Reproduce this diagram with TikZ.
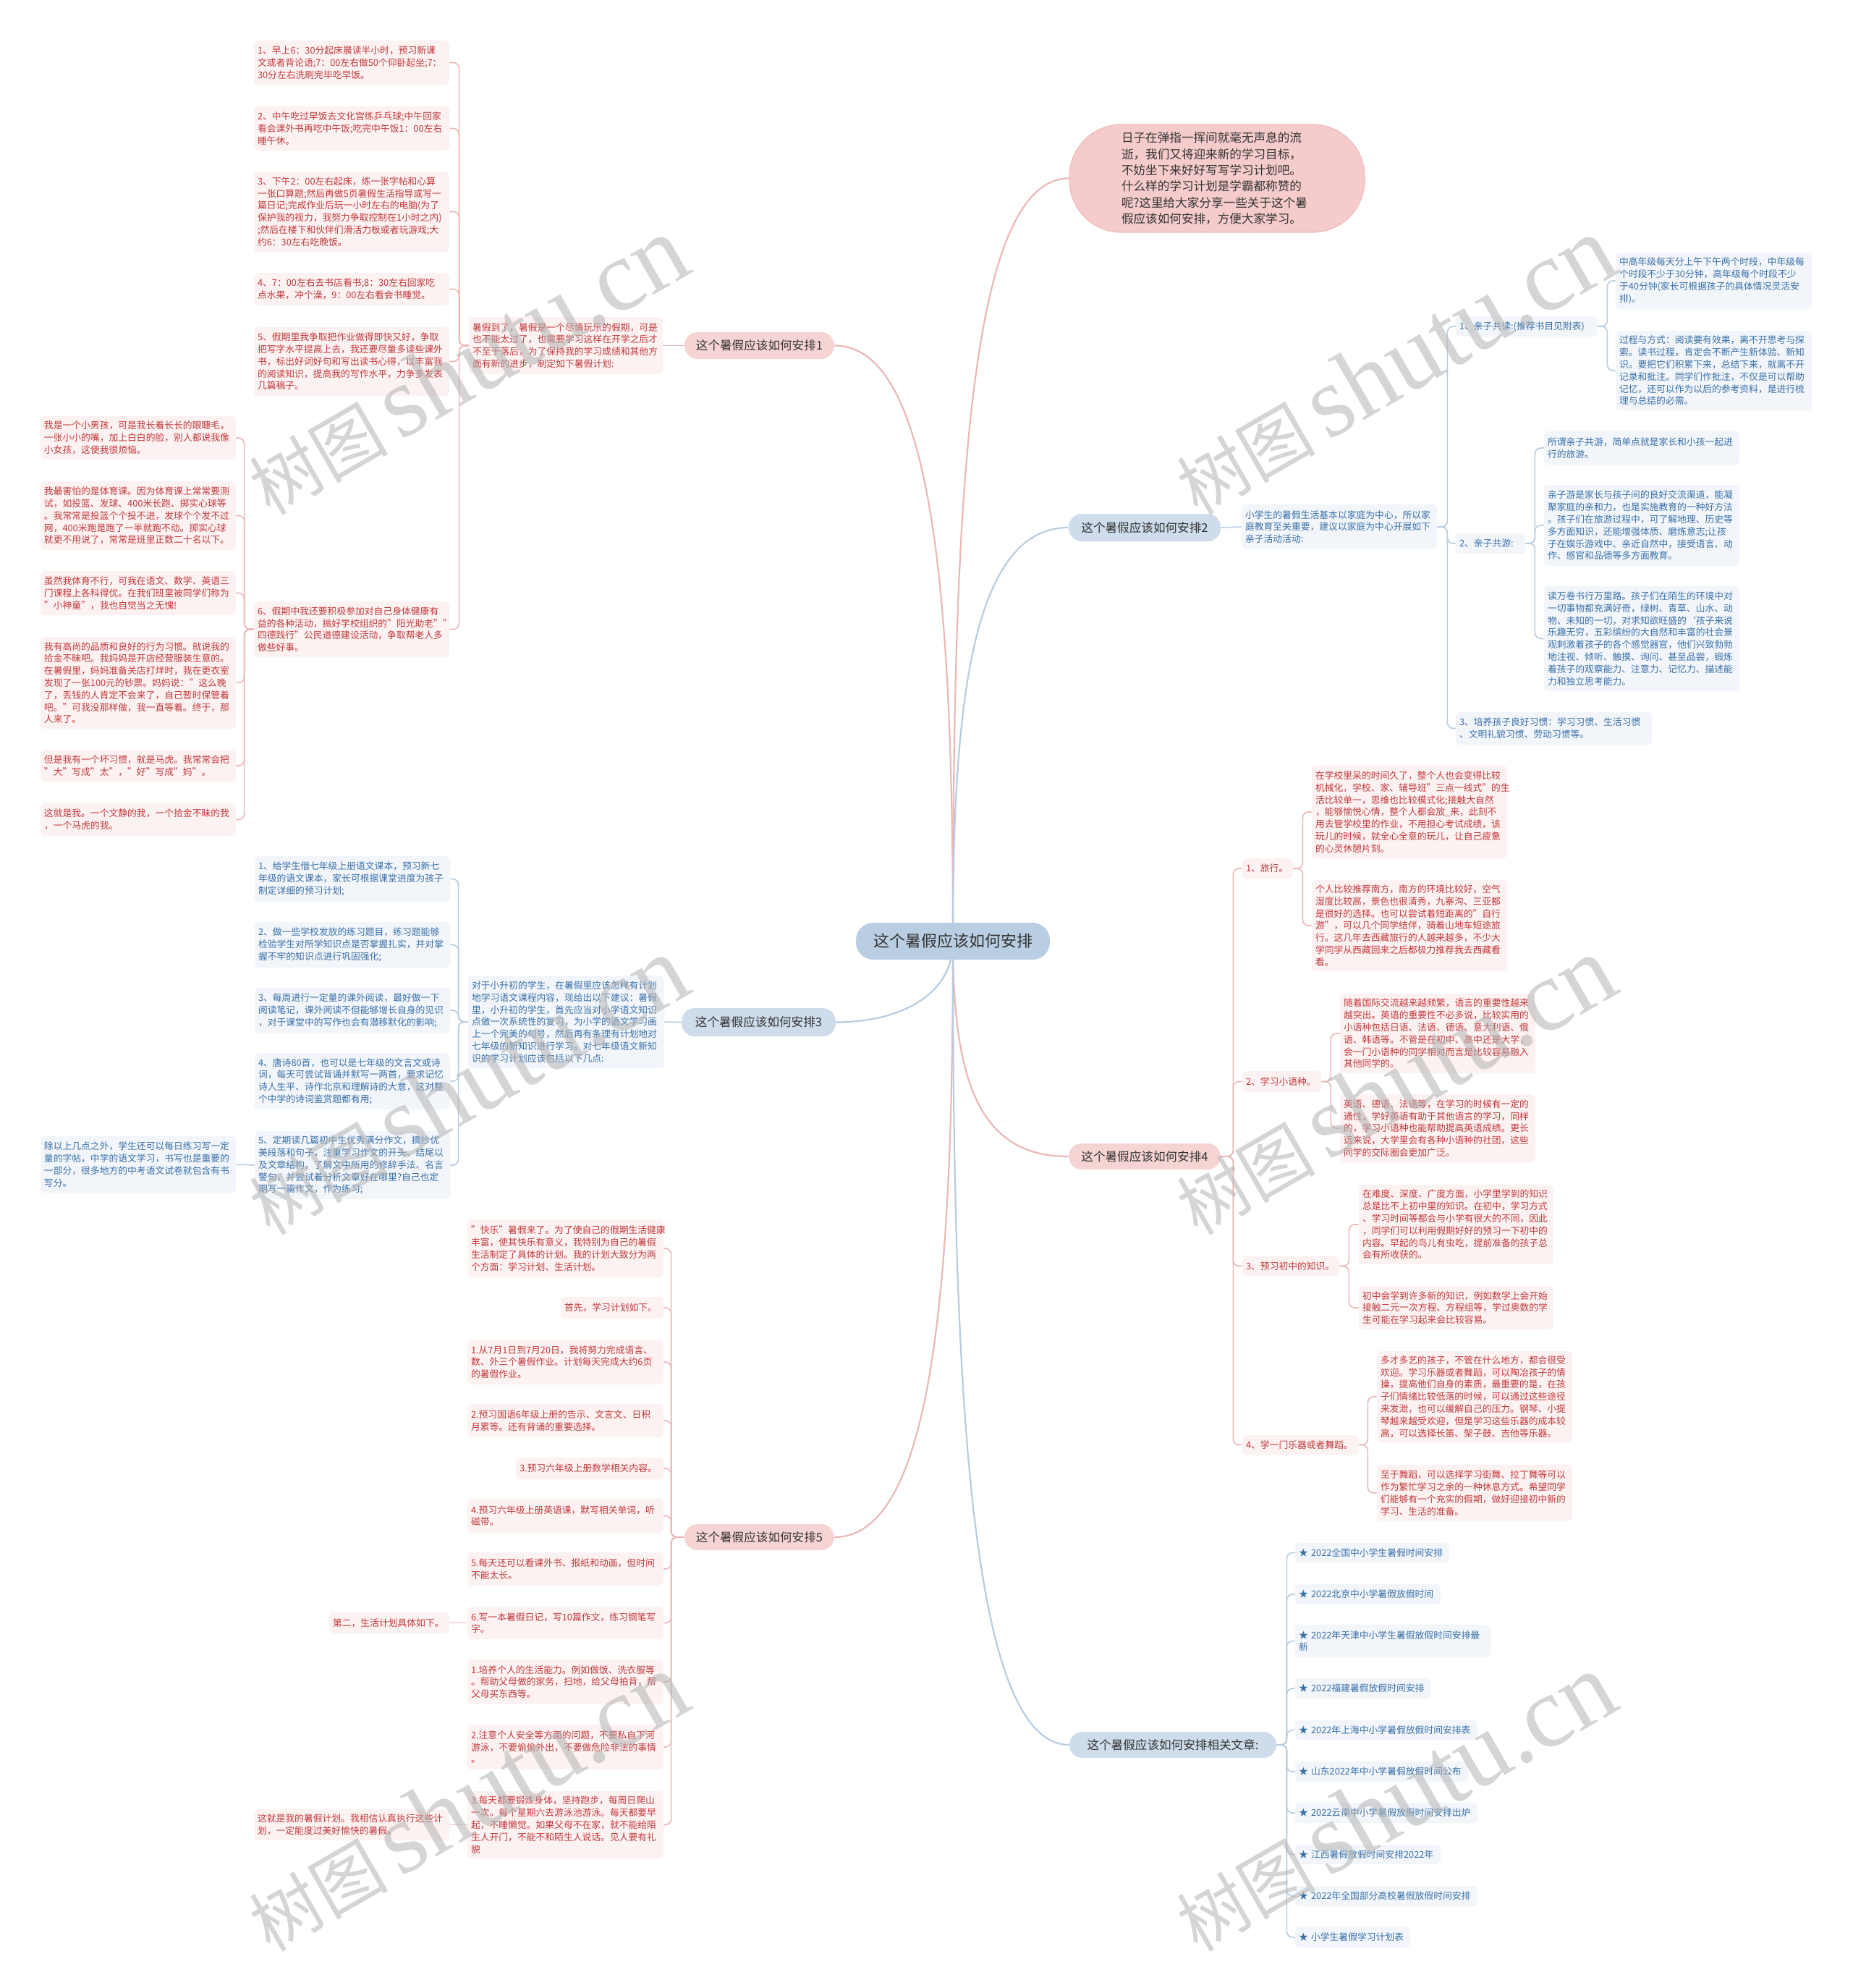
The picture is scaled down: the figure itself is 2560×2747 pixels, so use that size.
\documentclass[tikz,border=0pt]{standalone}
\usepackage{fontspec}
\setmainfont{Noto Sans CJK SC}
\newfontfamily\wmserif{Liberation Serif}
\definecolor{pinktext}{HTML}{C0393B}
\definecolor{pinkfill}{HTML}{FDF2F2}
\definecolor{pinkline}{HTML}{EBB8B8}
\definecolor{pinkbr}{HTML}{F7D4D4}
\definecolor{ovalfill}{HTML}{F5CBCB}
\definecolor{ovaldraw}{HTML}{F0BABA}
\definecolor{bluetext}{HTML}{3A6FA6}
\definecolor{bluefill}{HTML}{F2F6FB}
\definecolor{blueline}{HTML}{B9CCE0}
\definecolor{bluebr}{HTML}{CEDCEB}
\definecolor{centerfill}{HTML}{BACEE3}
\definecolor{darktext}{HTML}{333333}
\definecolor{wmgray}{HTML}{B4B4B4}
\pgfdeclarelayer{back}
\pgfdeclarelayer{bg}
\pgfdeclarelayer{wm}
\pgfsetlayers{back,bg,main,wm}
\newcommand\dq{\char"0022\relax}
\newcommand\mmbox[7]{%
  \pgfmathsetmacro\mmw{(#5-#3)*0.5}%
  \pgfmathsetmacro\mmh{(#6-#4)*0.5}%
  \pgfmathsetmacro\mmt{(#5-#3)*0.5-5}%
  \pgfmathsetmacro\mmx{(#3+#5)/2}%
  \pgfmathsetmacro\mmy{(#4+#6)/2}%
  \node[#2,minimum width=\mmw pt,minimum height=\mmh pt,text width=\mmt pt] (#1) at (\mmx,\mmy) {#7};%
}
\begin{document}
\begin{tikzpicture}[x=0.5pt,y=-0.5pt,
  lfP/.style={fill=pinkfill,text=pinktext,rounded corners=3pt,align=left,inner xsep=2.5pt,inner ysep=1.5pt,font=\fontsize{6.4}{8.4}\selectfont},
  lfB/.style={fill=bluefill,text=bluetext,rounded corners=3pt,align=left,inner xsep=2.5pt,inner ysep=1.5pt,font=\fontsize{6.4}{8.4}\selectfont},
  brP/.style={fill=pinkbr,text=darktext,rounded corners=9pt,align=center,inner xsep=2.5pt,inner ysep=1pt,font=\fontsize{8.3}{10}\selectfont},
  brB/.style={fill=bluebr,text=darktext,rounded corners=9pt,align=center,inner xsep=2.5pt,inner ysep=1pt,font=\fontsize{8.3}{10}\selectfont},
  lnP/.style={draw=pinkline,line width=0.8pt,rounded corners=4pt},
  lnB/.style={draw=blueline,line width=0.8pt,rounded corners=4pt},
  mnP/.style={draw=pinkline,line width=1.1pt},
  mnB/.style={draw=blueline,line width=1.1pt},
  wmk/.style={rotate=30,text=wmgray,text opacity=0.55,inner sep=0pt}
]
\useasboundingbox (0,0) rectangle (2560,2747);
\begin{pgfonlayer}{back}
\fill[white] (0,0) rectangle (2560,2747);
\end{pgfonlayer}

% ---------- center ----------
\node[fill=centerfill,text=darktext,rounded corners=12pt,minimum width=134pt,minimum height=25.5pt,inner sep=0pt,font=\fontsize{11}{13}\selectfont] (c) at (1317,1300.5) {这个暑假应该如何安排};

% ---------- intro oval ----------
\node[fill=ovalfill,draw=ovaldraw,line width=0.6pt,rounded corners=36pt,minimum width=204pt,minimum height=74.5pt,text width=132pt,align=left,text=darktext,font=\fontsize{8.3}{11.2}\selectfont,inner sep=0pt] (intro) at (1682,246.5) {日子在弹指一挥间就毫无声息的流\\逝，我们又将迎来新的学习目标，\\不妨坐下来好好写写学习计划吧。\\什么样的学习计划是学霸都称赞的\\呢?这里给大家分享一些关于这个暑\\假应该如何安排，方便大家学习。};

% ---------- branch 1 ----------
\mmbox{b1}{brP}{946}{459}{1153}{496}{这个暑假应该如何安排1}
\mmbox{p1i}{lfP}{648}{438}{916}{517}{暑假到了，暑假是一个尽情玩乐的假期，可是\\也不能太过了，也需要学习这样在开学之后才\\不至于落后，为了保持我的学习成绩和其他方\\面有新的进步，制定如下暑假计划:}
\mmbox{it1}{lfP}{351}{56}{621}{117}{1、早上6：30分起床晨读半小时，预习新课\\文或者背论语;7：00左右做50个仰卧起坐;7：\\30分左右洗刷完毕吃早饭。}
\mmbox{it2}{lfP}{351}{147}{621}{208}{2、中午吃过早饭去文化宫练乒乓球;中午回家\\看会课外书再吃中午饭;吃完中午饭1：00左右\\睡午休。}
\mmbox{it3}{lfP}{351}{237}{621}{348}{3、下午2：00左右起床，练一张字帖和心算\\一张口算题;然后再做5页暑假生活指导或写一\\篇日记;完成作业后玩一小时左右的电脑(为了\\保护我的视力，我努力争取控制在1小时之内)\\;然后在楼下和伙伴们滑活力板或者玩游戏;大\\约6：30左右吃晚饭。}
\mmbox{it4}{lfP}{351}{377}{621}{422}{4、7：00左右去书店看书;8：30左右回家吃\\点水果，冲个澡，9：00左右看会书睡觉。}
\mmbox{it5}{lfP}{351}{452}{621}{547}{5、假期里我争取把作业做得即快又好，争取\\把写字水平提高上去，我还要尽量多读些课外\\书，标出好词好句和写出读书心得，以丰富我\\的阅读知识，提高我的写作水平，力争多发表\\几篇稿子。}
\mmbox{it6}{lfP}{351}{831}{621}{908}{6、假期中我还要积极参加对自己身体健康有\\益的各种活动，搞好学校组织的\dq{}阳光助老\dq{}\dq{}\\四德践行\dq{}公民道德建设活动，争取帮老人多\\做些好事。}
\mmbox{k1}{lfP}{56}{575}{326}{635}{我是一个小男孩，可是我长着长长的眼睫毛，\\一张小小的嘴，加上白白的脸，别人都说我像\\小女孩，这使我很烦恼。}
\mmbox{k2}{lfP}{56}{665}{326}{760}{我最害怕的是体育课。因为体育课上常常要测\\试，如投篮、发球、400米长跑、掷实心球等\\。我常常是投篮个个投不进，发球个个发不过\\网，400米跑是跑了一半就跑不动。掷实心球\\就更不用说了，常常是班里正数二十名以下。}
\mmbox{k3}{lfP}{56}{789}{326}{850}{虽然我体育不行，可我在语文、数学、英语三\\门课程上各科得优。在我们班里被同学们称为\\\dq{}小神童\dq{}，我也自觉当之无愧!}
\mmbox{k4}{lfP}{56}{880}{326}{1007}{我有高尚的品质和良好的行为习惯。就说我的\\拾金不昧吧。我妈妈是开店经营服装生意的。\\在暑假里，妈妈准备关店打烊时，我在更衣室\\发现了一张100元的钞票。妈妈说：\dq{}这么晚\\了，丢钱的人肯定不会来了，自己暂时保管着\\吧。\dq{}可我没那样做，我一直等着。终于，那\\人来了。}
\mmbox{k5}{lfP}{56}{1036}{326}{1080}{但是我有一个坏习惯，就是马虎。我常常会把\\\dq{}大\dq{}写成\dq{}太\dq{}，\dq{}好\dq{}写成\dq{}妈\dq{}。}
\mmbox{k6}{lfP}{56}{1110}{326}{1155}{这就是我。一个文静的我，一个拾金不昧的我\\，一个马虎的我。}

% ---------- branch 3 ----------
\mmbox{b3}{brB}{942}{1393}{1155}{1432}{这个暑假应该如何安排3}
\mmbox{p3i}{lfB}{647}{1348}{918}{1476}{对于小升初的学生，在暑假里应该怎样有计划\\地学习语文课程内容，现给出以下建议：暑假\\里，小升初的学生，首先应当对小学语文知识\\点做一次系统性的复习，为小学的语文学习画\\上一个完美的句号，然后再有条理有计划地对\\七年级的新知识进行学习。对七年级语文新知\\识的学习计划应该包括以下几点:}
\mmbox{m1}{lfB}{352}{1183}{622}{1246}{1、给学生借七年级上册语文课本，预习新七\\年级的语文课本，家长可根据课堂进度为孩子\\制定详细的预习计划;}
\mmbox{m2}{lfB}{352}{1274}{622}{1337}{2、做一些学校发放的练习题目，练习题能够\\检验学生对所学知识点是否掌握扎实，并对掌\\握不牢的知识点进行巩固强化;}
\mmbox{m3}{lfB}{352}{1365}{622}{1427}{3、每周进行一定量的课外阅读，最好做一下\\阅读笔记，课外阅读不但能够增长自身的见识\\，对于课堂中的写作也会有潜移默化的影响;}
\mmbox{m4}{lfB}{352}{1455}{622}{1533}{4、唐诗80首，也可以是七年级的文言文或诗\\词，每天可尝试背诵并默写一两首，要求记忆\\诗人生平、诗作北京和理解诗的大意，这对整\\个中学的诗词鉴赏题都有用;}
\mmbox{m5}{lfB}{352}{1563}{622}{1657}{5、定期读几篇初中生优秀满分作文，摘抄优\\美段落和句子，注重学习作文的开头、结尾以\\及文章结构，了解文中所用的修辞手法、名言\\警句，并尝试着分析文章好在哪里?自己也定\\期写一篇作文，作为练习;}
\mmbox{mn}{lfB}{56}{1570}{326}{1648}{除以上几点之外，学生还可以每日练习写一定\\量的字帖，中学的语文学习，书写也是重要的\\一部分，很多地方的中考语文试卷就包含有书\\写分。}

% ---------- branch 5 ----------
\mmbox{b5}{brP}{946}{2106}{1153}{2142}{这个暑假应该如何安排5}
\mmbox{f1}{lfP}{646}{1685}{917}{1765}{\dq{}快乐\dq{}暑假来了。为了使自己的假期生活健康\\丰富，使其快乐有意义，我特别为自己的暑假\\生活制定了具体的计划。我的计划大致分为两\\个方面：学习计划、生活计划。}
\mmbox{f2}{lfP}{775}{1792}{917}{1822}{首先，学习计划如下。}
\mmbox{f3}{lfP}{646}{1851}{917}{1913}{1.从7月1日到7月20日，我将努力完成语言、\\数、外三个暑假作业。计划每天完成大约6页\\的暑假作业。}
\mmbox{f4}{lfP}{646}{1940}{917}{1986}{2.预习国语6年级上册的告示、文言文、日积\\月累等。还有背诵的重要选择。}
\mmbox{f5}{lfP}{713}{2014}{917}{2044}{3.预习六年级上册数学相关内容。}
\mmbox{f6}{lfP}{646}{2071}{917}{2118}{4.预习六年级上册英语课，默写相关单词，听\\磁带。}
\mmbox{f7}{lfP}{646}{2145}{917}{2191}{5.每天还可以看课外书、报纸和动画，但时间\\不能太长。}
\mmbox{f8}{lfP}{646}{2220}{917}{2265}{6.写一本暑假日记，写10篇作文，练习钢笔写\\字。}
\mmbox{fsec}{lfP}{455}{2228}{621}{2257}{第二，生活计划具体如下。}
\mmbox{f9}{lfP}{646}{2293}{917}{2355}{1.培养个人的生活能力。例如做饭、洗衣服等\\。帮助父母做的家务，扫地，给父母拍背，帮\\父母买东西等。}
\mmbox{f10}{lfP}{646}{2383}{917}{2445}{2.注意个人安全等方面的问题，不要私自下河\\游泳，不要偷偷外出，不要做危险非法的事情\\。}
\mmbox{f11}{lfP}{646}{2475}{917}{2568}{3.每天都要锻炼身体，坚持跑步，每周日爬山\\一次。每个星期六去游泳池游泳。每天都要早\\起，不睡懒觉。如果父母不在家，就不能给陌\\生人开门，不能不和陌生人说话。见人要有礼\\貌}
\mmbox{ffin}{lfP}{351}{2500}{621}{2543}{这就是我的暑假计划。我相信认真执行这些计\\划，一定能度过美好愉快的暑假。}

% ---------- branch 2 ----------
\mmbox{b2}{brB}{1477}{710}{1687}{748}{这个暑假应该如何安排2}
\mmbox{p2i}{lfB}{1716}{697}{1986}{759}{小学生的暑假生活基本以家庭为中心，所以家\\庭教育至关重要，建议以家庭为中心开展如下\\亲子活动活动:}
\mmbox{r1}{lfB}{2012}{437}{2208}{465}{1、亲子共读:(推荐书目见附表)}
\mmbox{r1a}{lfB}{2233}{349}{2504}{427}{中高年级每天分上午下午两个时段，中年级每\\个时段不少于30分钟，高年级每个时段不少\\于40分钟(家长可根据孩子的具体情况灵活安\\排)。}
\mmbox{r1b}{lfB}{2233}{457}{2504}{567}{过程与方式：阅读要有效果，离不开思考与探\\索。读书过程，肯定会不断产生新体验、新知\\识。要把它们积累下来，总结下来，就离不开\\记录和批注。同学们作批注，不仅是可以帮助\\记忆，还可以作为以后的参考资料，是进行梳\\理与总结的必需。}
\mmbox{r2}{lfB}{2012}{737}{2108}{765}{2、亲子共游:}
\mmbox{r2a}{lfB}{2134}{596}{2404}{642}{所谓亲子共游，简单点就是家长和小孩一起进\\行的旅游。}
\mmbox{r2b}{lfB}{2134}{670}{2404}{782}{亲子游是家长与孩子间的良好交流渠道，能凝\\聚家庭的亲和力，也是实施教育的一种好方法\\。孩子们在旅游过程中，可了解地理、历史等\\多方面知识，还能增强体质、磨炼意志;让孩\\子在娱乐游戏中、亲近自然中，接受语言、动\\作、感官和品德等多方面教育。}
\mmbox{r2c}{lfB}{2134}{810}{2404}{955}{读万卷书行万里路。孩子们在陌生的环境中对\\一切事物都充满好奇，绿树、青草、山水、动\\物、未知的一切，对求知欲旺盛的{\char"0060}孩子来说\\乐趣无穷，五彩缤纷的大自然和丰富的社会景\\观刺激着孩子的各个感觉器官，他们兴致勃勃\\地注视、倾听、触摸、询问、甚至品尝，锻炼\\着孩子的观察能力、注意力、记忆力、描述能\\力和独立思考能力。}
\mmbox{r3}{lfB}{2012}{984}{2283}{1029}{3、培养孩子良好习惯：学习习惯、生活习惯\\、文明礼貌习惯、劳动习惯等。}

% ---------- branch 4 ----------
\mmbox{b4}{brP}{1477}{1580}{1687}{1616}{这个暑假应该如何安排4}
\mmbox{t1}{lfP}{1717}{1186}{1787}{1214}{1、旅行。}
\mmbox{t1a}{lfP}{1813}{1058}{2083}{1186}{在学校里呆的时间久了，整个人也会变得比较\\机械化，学校、家、辅导班\dq{}三点一线式\dq{}的生\\活比较单一，思维也比较模式化;接触大自然\\，能够愉悦心情，整个人都会放\_来，此刻不\\用去管学校里的作业，不用担心考试成绩，该\\玩儿的时候，就全心全意的玩儿，让自己疲惫\\的心灵休憩片刻。}
\mmbox{t1b}{lfP}{1813}{1216}{2083}{1342}{个人比较推荐南方，南方的环境比较好，空气\\湿度比较高，景色也很清秀，九寨沟、三亚都\\是很好的选择。也可以尝试着短距离的\dq{}自行\\游\dq{}，可以几个同学结伴，骑着山地车短途旅\\行。这几年去西藏旅行的人越来越多，不少大\\学同学从西藏回来之后都极力推荐我去西藏看\\看。}
\mmbox{t2}{lfP}{1717}{1480}{1826}{1509}{2、学习小语种。}
\mmbox{t2a}{lfP}{1852}{1373}{2122}{1483}{随着国际交流越来越频繁，语言的重要性越来\\越突出。英语的重要性不必多说，比较实用的\\小语种包括日语、法语、德语、意大利语、俄\\语、韩语等。不管是在初中、高中还是大学，\\会一门小语种的同学相对而言是比较容易融入\\其他同学的。}
\mmbox{t2b}{lfP}{1852}{1512}{2122}{1606}{英语、德语、法语等，在学习的时候有一定的\\通性，学好英语有助于其他语言的学习，同样\\的，学习小语种也能帮助提高英语成绩。更长\\远来说，大学里会有各种小语种的社团，这些\\同学的交际圈会更加广泛。}
\mmbox{t3}{lfP}{1717}{1736}{1851}{1763}{3、预习初中的知识。}
\mmbox{t3a}{lfP}{1878}{1637}{2147}{1747}{在难度、深度、广度方面，小学里学到的知识\\总是比不上初中里的知识。在初中，学习方式\\、学习时间等都会与小学有很大的不同，因此\\，同学们可以利用假期好好的预习一下初中的\\内容。早起的鸟儿有虫吃，提前准备的孩子总\\会有所收获的。}
\mmbox{t3b}{lfP}{1878}{1777}{2147}{1837}{初中会学到许多新的知识，例如数学上会开始\\接触二元一次方程、方程组等，学过奥数的学\\生可能在学习起来会比较容易。}
\mmbox{t4}{lfP}{1717}{1983}{1878}{2010}{4、学一门乐器或者舞蹈。}
\mmbox{t4a}{lfP}{1903}{1867}{2173}{1993}{多才多艺的孩子，不管在什么地方，都会很受\\欢迎。学习乐器或者舞蹈，可以陶冶孩子的情\\操，提高他们自身的素质，最重要的是，在孩\\子们情绪比较低落的时候，可以通过这些途径\\来发泄，也可以缓解自己的压力。钢琴、小提\\琴越来越受欢迎，但是学习这些乐器的成本较\\高，可以选择长笛、架子鼓、吉他等乐器。}
\mmbox{t4b}{lfP}{1903}{2024}{2173}{2102}{至于舞蹈，可以选择学习街舞、拉丁舞等可以\\作为繁忙学习之余的一种休息方式。希望同学\\们能够有一个充实的假期，做好迎接初中新的\\学习、生活的准备。}

% ---------- related ----------
\mmbox{rel}{brB}{1478}{2393}{1764}{2429}{这个暑假应该如何安排相关文章:}
\mmbox{a1}{lfB}{1790}{2132}{2003}{2159}{★~2022全国中小学生暑假时间安排}
\mmbox{a2}{lfB}{1790}{2189}{1991}{2217}{★~2022北京中小学暑假放假时间}
\mmbox{a3}{lfB}{1790}{2245}{2060}{2290}{★~2022年天津中小学生暑假放假时间安排最\\新}
\mmbox{a4}{lfB}{1790}{2319}{1978}{2347}{★~2022福建暑假放假时间安排}
\mmbox{a5}{lfB}{1790}{2377}{2042}{2404}{★~2022年上海中小学暑假放假时间安排表}
\mmbox{a6}{lfB}{1790}{2434}{2029}{2462}{★~山东2022年中小学暑假放假时间公布}
\mmbox{a7}{lfB}{1790}{2491}{2042}{2519}{★~2022云南中小学暑假放假时间安排出炉}
\mmbox{a8}{lfB}{1790}{2549}{1991}{2576}{★~江西暑假放假时间安排2022年}
\mmbox{a9}{lfB}{1790}{2606}{2042}{2634}{★~2022年全国部分高校暑假放假时间安排}
\mmbox{a10}{lfB}{1790}{2663}{1949}{2691}{★~小学生暑假学习计划表}

% ---------- connectors ----------
\begin{pgfonlayer}{bg}
\draw[mnP] (c.center) .. controls +(0,-450) and +(140,0) .. (b1.east);
\draw[mnB] (c.center) .. controls +(0,80) and +(80,0) .. (b3.east);
\draw[mnP] (c.center) .. controls +(0,450) and +(140,0) .. (b5.east);
\draw[mnP] (c.center) .. controls +(0,-600) and +(-140,0) .. (intro.west);
\draw[mnB] (c.center) .. controls +(0,-300) and +(-140,0) .. (b2.west);
\draw[mnP] (c.center) .. controls +(0,200) and +(-120,0) .. (b4.west);
\draw[mnB] (c.center) .. controls +(0,600) and +(-140,0) .. (rel.west);
% branch 1
\draw[lnP] (b1.west) -- (p1i.east);
\foreach \n in {it1,it2,it3,it4,it5,it6}
  \draw[lnP] (p1i.west) -- ++(-13,0) |- (\n.east);
\foreach \n in {k1,k2,k3,k4,k5,k6}
  \draw[lnP] (it6.west) -- ++(-13,0) |- (\n.east);
% branch 3
\draw[lnB] (b3.west) -- (p3i.east);
\foreach \n in {m1,m2,m3,m4,m5}
  \draw[lnB] (p3i.west) -- ++(-13,0) |- (\n.east);
\draw[lnB] (m5.west) -- (mn.east);
% branch 5
\foreach \n in {f1,f2,f3,f4,f5,f6,f7,f8,f9,f10,f11}
  \draw[lnP] (b5.west) -- ++(-18,0) |- (\n.east);
\draw[lnP] (f8.west) -- (fsec.east);
\draw[lnP] (f11.west) -- (ffin.east);
% branch 2
\draw[lnB] (b2.east) -- (p2i.west);
\foreach \n in {r1,r2,r3}
  \draw[lnB] (p2i.east) -- ++(14,0) |- (\n.west);
\foreach \n in {r1a,r1b}
  \draw[lnB] (r1.east) -- ++(13,0) |- (\n.west);
\foreach \n in {r2a,r2b,r2c}
  \draw[lnB] (r2.east) -- ++(13,0) |- (\n.west);
% branch 4
\foreach \n in {t1,t2,t3,t4}
  \draw[lnP] (b4.east) -- ++(17,0) |- (\n.west);
\foreach \n in {t1a,t1b}
  \draw[lnP] (t1.east) -- ++(13,0) |- (\n.west);
\foreach \n in {t2a,t2b}
  \draw[lnP] (t2.east) -- ++(13,0) |- (\n.west);
\foreach \n in {t3a,t3b}
  \draw[lnP] (t3.east) -- ++(13,0) |- (\n.west);
\foreach \n in {t4a,t4b}
  \draw[lnP] (t4.east) -- ++(12,0) |- (\n.west);
% related
\foreach \n in {a1,a2,a3,a4,a5,a6,a7,a8,a9,a10}
  \draw[lnB] (rel.east) -- ++(14,0) |- (\n.west);
\end{pgfonlayer}

% ---------- watermarks ----------
\begin{pgfonlayer}{wm}
\foreach \wx/\wy/\wn in {645/505/w1,1927/505/w2,645/1500/w3,1927/1500/w4,645/2490/w5,1927/2490/w6}
  \node[wmk] (\wn) at (\wx,\wy) {\fontsize{48}{50}\selectfont 树图\,{\wmserif\fontsize{70}{72}\selectfont shutu.cn}};
\end{pgfonlayer}
\end{tikzpicture}
\end{document}
